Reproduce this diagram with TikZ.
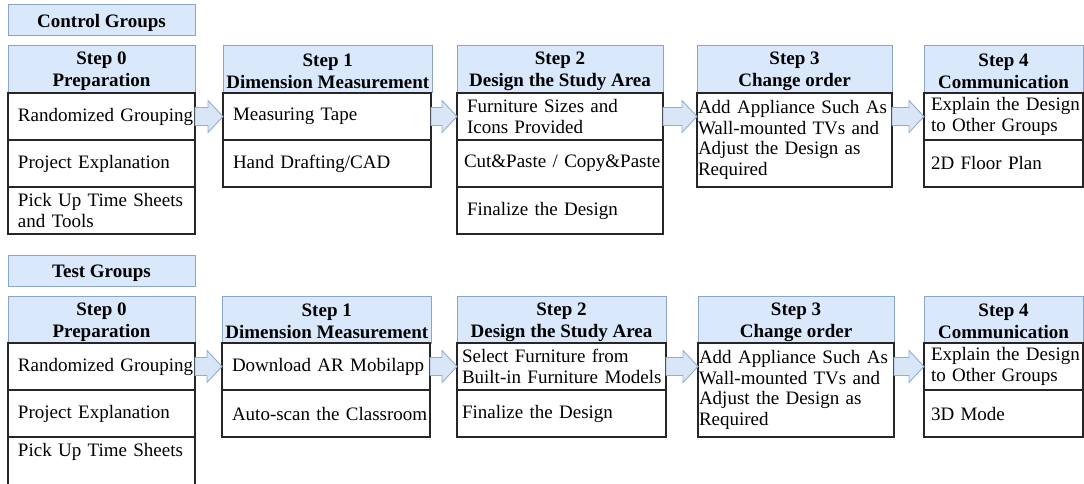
\documentclass[tikz,border=0pt]{standalone}
\usepackage{fontspec}
\setmainfont{Liberation Serif}
\usetikzlibrary{calc}

\definecolor{headfill}{HTML}{DAE8FC}
\definecolor{headline}{HTML}{8BA4C9}
\definecolor{arrowfill}{HTML}{D8E6F7}
\definecolor{arrowline}{HTML}{97ADCF}

\tikzset{
  cell/.style={anchor=north west, outer sep=0pt, inner ysep=2pt},
  headbox/.style={cell, draw=headline, fill=headfill, line width=1pt,
    align=center, text height=39pt, font=\fontsize{19}{22}\selectfont\bfseries},
  titlebox/.style={headbox, text height=18pt, minimum width=187pt, minimum height=31pt},
  % explicit line breaks only: lines may run into the right padding
  inset/.style={execute at begin node={\leftskip=#1\relax\rightskip=-30pt plus 1fil\relax}},
  itembox/.style={cell, draw=black!85, fill=white, line width=1.4pt,
    align=left, inner xsep=0pt, inset=9pt, font=\fontsize{19}{20.5}\selectfont},
  size/.style 2 args={minimum width=#1, minimum height=#2, text width=#1-2pt},
  blockarrow/.style={draw=arrowline, fill=arrowfill, line width=0.9pt, line join=miter}
}

% block arrow from #1 to #2, its axis at the height of #3
\newcommand{\flowarrow}[3]{%
  \path[blockarrow] let \p1=(#1), \p2=(#2), \p3=(#3) in
    (\x1,\y3+9pt) -- (\x2-15pt,\y3+9pt) -- (\x2-15pt,\y3+16pt) -- (\x2,\y3)
    -- (\x2-15pt,\y3-16pt) -- (\x2-15pt,\y3-9pt) -- (\x1,\y3-9pt) -- cycle;}

\begin{document}
\begin{tikzpicture}[x=1pt,y=-1pt]
\useasboundingbox (0,0) rectangle (1084,484);
\clip (0,0) rectangle (1084,484);

% ---------------- control groups ----------------
\node[titlebox] (cTitle) at (8,5) {Control Groups};

\node[headbox, minimum width=187pt, minimum height=47pt] (cH0) at (8,46)   {Step 0\\Preparation};
\node[headbox, minimum width=208pt, minimum height=47pt] (cH1) at (223,46) {Step 1\\Dimension Measurement};
\node[headbox, minimum width=206pt, minimum height=47pt] (cH2) at (457,46) {Step 2\\Design the Study Area};
\node[headbox, minimum width=195pt, minimum height=47pt] (cH3) at (697,46) {Step 3\\Change order};
\node[headbox, minimum width=159pt, minimum height=47pt] (cH4) at (924,46) {Step 4\\Communication};

\node[itembox, size={187pt}{47pt}] (c0a) at (8,93)  {Randomized Grouping};
\node[itembox, size={187pt}{47pt}] (c0b) at (8,140) {Project Explanation};
\node[itembox, size={187pt}{47pt}] (c0c) at (8,187) {Pick Up Time Sheets\\and Tools};

\node[itembox, size={208pt}{47pt}] (c1a) at (223,93)  {Measuring Tape};
\node[itembox, size={208pt}{47pt}] (c1b) at (223,140) {Hand Drafting/CAD};

\node[itembox, size={206pt}{47pt}] (c2a) at (457,93)  {Furniture Sizes and\\Icons Provided};
\node[itembox, size={206pt}{47pt}, inset=6pt] (c2b) at (457,140) {Cut\&Paste / Copy\&Paste};
\node[itembox, size={206pt}{47pt}] (c2c) at (457,187) {Finalize the Design};

\node[itembox, size={195pt}{94pt}, inset=0pt] (c3a) at (697,93)
  {Add Appliance Such As\\Wall-mounted TVs and\\Adjust the Design as\\Required};

\node[itembox, size={159pt}{47pt}, inset=6pt] (c4a) at (924,93)  {Explain the Design\\to Other Groups};
\node[itembox, size={159pt}{47pt}, inset=6pt] (c4b) at (924,140) {2D Floor Plan};

\flowarrow{c0a.east}{c1a.west}{c0a.east}
\flowarrow{c1a.east}{c2a.west}{c1a.east}
\flowarrow{c2a.east}{c3a.west}{c2a.east}
\flowarrow{c3a.east}{c4a.west}{c4a.west}

% ---------------- test groups ----------------
\node[titlebox] (tTitle) at (8,255) {Test Groups};

\node[headbox, minimum width=187pt, minimum height=47pt] (tH0) at (8,296)   {Step 0\\Preparation};
\node[headbox, minimum width=208pt, minimum height=47pt] (tH1) at (222,296) {Step 1\\Dimension Measurement};
\node[headbox, minimum width=209pt, minimum height=47pt] (tH2) at (457,296) {Step 2\\Design the Study Area};
\node[headbox, minimum width=196pt, minimum height=47pt] (tH3) at (698,296) {Step 3\\Change order};
\node[headbox, minimum width=159pt, minimum height=47pt] (tH4) at (924,296) {Step 4\\Communication};

\node[itembox, size={187pt}{47pt}] (t0a) at (8,343) {Randomized Grouping};
\node[itembox, size={187pt}{47pt}] (t0b) at (8,390) {Project Explanation};
\node[itembox, minimum width=187pt, text width=185pt, inner ysep=6pt, text depth=40pt] (t0c) at (8,437) {Pick Up Time Sheets};

\node[itembox, size={208pt}{47pt}] (t1a) at (222,343) {Download AR Mobilapp};
\node[itembox, size={208pt}{47pt}] (t1b) at (222,390) {Auto-scan the Classroom};

\node[itembox, size={209pt}{47pt}, inset=4pt] (t2a) at (457,343) {Select Furniture from\\Built-in Furniture Models};
\node[itembox, size={209pt}{47pt}, inset=4pt] (t2b) at (457,390) {Finalize the Design};

\node[itembox, size={196pt}{94pt}, inset=0pt] (t3a) at (698,343)
  {Add Appliance Such As\\Wall-mounted TVs and\\Adjust the Design as\\Required};

\node[itembox, size={159pt}{47pt}, inset=6pt] (t4a) at (924,343) {Explain the Design\\to Other Groups};
\node[itembox, size={159pt}{47pt}, inset=6pt] (t4b) at (924,390) {3D Mode};

\flowarrow{t0a.east}{t1a.west}{t0a.east}
\flowarrow{t1a.east}{t2a.west}{t1a.east}
\flowarrow{t2a.east}{t3a.west}{t2a.east}
\flowarrow{t3a.east}{t4a.west}{t4a.west}
\end{tikzpicture}
\end{document}
